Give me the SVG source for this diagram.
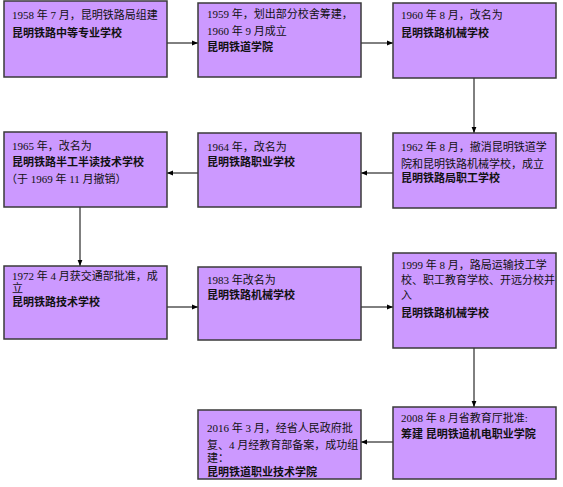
<svg xmlns="http://www.w3.org/2000/svg" width="563" height="487" viewBox="0 0 563 487">
<style>
.box{fill:#CC99FF;stroke:#3a3a3a;stroke-width:1.5}
text{font-family:"Liberation Serif","Noto Sans CJK SC",serif;font-size:11px;fill:#111}
.b{font-weight:bold}
.c{fill:none;stroke:#000;stroke-width:1;marker-end:url(#ah)}
</style>
<defs>
<marker id="ah" viewBox="0 0 10 10" refX="10" refY="5" markerWidth="6" markerHeight="6" markerUnits="userSpaceOnUse" orient="auto">
<path d="M0,1 L10,5 L0,9 z" fill="#000"/>
</marker>
</defs>
<rect width="563" height="487" fill="#fff"/>
<g id="connectors">
<line class="c" x1="167" y1="43" x2="198" y2="43"/>
<line class="c" x1="361" y1="43" x2="393" y2="43"/>
<line class="c" x1="474" y1="78" x2="474" y2="133"/>
<line class="c" x1="393" y1="173" x2="361" y2="173"/>
<line class="c" x1="198" y1="173" x2="167" y2="173"/>
<line class="c" x1="80" y1="207" x2="80" y2="266"/>
<line class="c" x1="167" y1="307" x2="198" y2="307"/>
<line class="c" x1="361" y1="307" x2="393" y2="307"/>
<line class="c" x1="474" y1="348" x2="474" y2="407"/>
<line class="c" x1="393" y1="442" x2="361" y2="442"/>
</g>
<g id="n1958">
<rect class="box" x="4" y="1" width="163" height="76"/>
<text x="12" y="19">1958 年 7 月，昆明铁路局组建</text>
<text x="12" y="37" class="b">昆明铁路中等专业学校</text>
</g>
<g id="n1959">
<rect class="box" x="198" y="3" width="163" height="74"/>
<text x="207" y="18">1959 年，划出部分校舍筹建，</text>
<text x="207" y="35">1960 年 9 月成立</text>
<text x="207" y="51" class="b">昆明铁道学院</text>
</g>
<g id="n1960">
<rect class="box" x="393" y="3" width="163" height="75"/>
<text x="401" y="19">1960 年 8 月，改名为</text>
<text x="401" y="37" class="b">昆明铁路机械学校</text>
</g>
<g id="n1962">
<rect class="box" x="393" y="133" width="163" height="75"/>
<text x="401" y="151">1962 年 8 月，撤消昆明铁道学</text>
<text x="401" y="168">院和昆明铁路机械学校，成立</text>
<text x="401" y="182" class="b">昆明铁路局职工学校</text>
</g>
<g id="n1964">
<rect class="box" x="198" y="133" width="163" height="74"/>
<text x="207" y="151">1964 年，改名为</text>
<text x="207" y="166" class="b">昆明铁路职业学校</text>
</g>
<g id="n1965">
<rect class="box" x="4" y="132" width="163" height="75"/>
<text x="12" y="150">1965 年，改名为</text>
<text x="12" y="166" class="b">昆明铁路半工半读技术学校</text>
<text x="6" y="183">（于 1969 年 11 月撤销）</text>
</g>
<g id="n1972">
<rect class="box" x="4" y="266" width="163" height="73"/>
<text x="12" y="280">1972 年 4 月获交通部批准，成</text>
<text x="12" y="292">立</text>
<text x="12" y="306" class="b">昆明铁路技术学校</text>
</g>
<g id="n1983">
<rect class="box" x="198" y="267" width="163" height="73"/>
<text x="207" y="284">1983 年改名为</text>
<text x="207" y="299" class="b">昆明铁路机械学校</text>
</g>
<g id="n1999">
<rect class="box" x="393" y="253" width="163" height="95"/>
<text x="401" y="269">1999 年 8 月，路局运输技工学</text>
<text x="401" y="284">校、职工教育学校、开远分校并</text>
<text x="401" y="299">入</text>
<text x="401" y="317" class="b">昆明铁路机械学校</text>
</g>
<g id="n2008">
<rect class="box" x="393" y="407" width="163" height="72"/>
<text x="401" y="422">2008 年 8 月省教育厅批准:</text>
<text x="401" y="438" class="b">筹建 昆明铁道机电职业学院</text>
</g>
<g id="n2016">
<rect class="box" x="198" y="410" width="163" height="69"/>
<text x="207" y="432">2016 年 3 月，经省人民政府批</text>
<text x="207" y="449">复、4 月经教育部备案，成功组</text>
<text x="207" y="462">建：</text>
<text x="207" y="476" class="b">昆明铁道职业技术学院</text>
</g>
</svg>
